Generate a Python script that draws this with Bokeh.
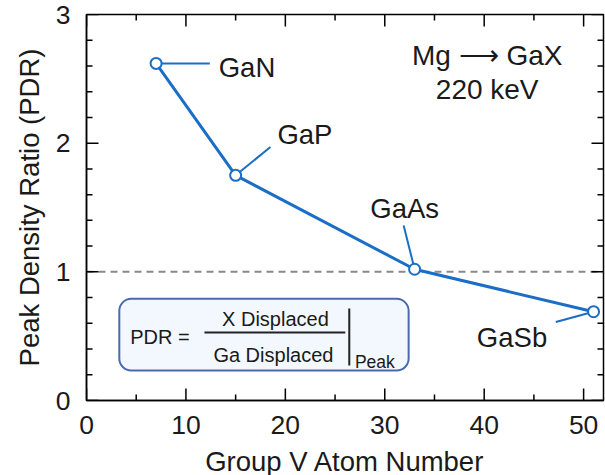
import math
from bokeh.plotting import figure
from bokeh.models import (SingleIntervalTicker, Span, BoxAnnotation,
                          ColumnDataSource)
from bokeh.core.properties import value
from bokeh.embed import file_html
from bokeh.resources import INLINE

# ---- data ----
compounds = ["GaN", "GaP", "GaAs", "GaSb"]
atom_number = [7, 15, 33, 51]
pdr = [2.62, 1.75, 1.02, 0.69]

x_ticks = [0, 10, 20, 30, 40, 50]
x_minor = [5, 15, 25, 35, 45]
y_ticks = [0, 1, 2, 3]
y_minor = [0.2, 0.4, 0.6, 0.8, 1.2, 1.4, 1.6, 1.8, 2.2, 2.4, 2.6, 2.8]
ref_level = 1.0

# ---- annotation placement (data units) ----
leader_x = [12.4, 18.5, 31.9, 47.2]
leader_y = [2.62, 1.97, 1.36, 0.61]
label_x = [13.3, 19.2, 32.0, 42.8]
label_y = [2.59, 2.07, 1.49, 0.49]
label_align = ["left", "left", "center", "center"]

X0, X1, Y0, Y1 = 0, 52, 0, 3

FONT = "Liberation Sans"
BLUE = "#1a6ec8"
TXT = "#1a1a1a"

p = figure(frame_width=517, frame_height=386, x_range=(X0, X1), y_range=(Y0, Y1),
           output_backend="svg", toolbar_location=None,
           min_border_left=86, min_border_right=2, min_border_top=14,
           min_border_bottom=75, background_fill_color="white",
           border_fill_color="white", outline_line_color="black",
           outline_line_width=1.5)
p.grid.visible = False

p.xaxis.ticker = SingleIntervalTicker(interval=10, num_minor_ticks=0)
p.yaxis.ticker = SingleIntervalTicker(interval=1, num_minor_ticks=0)

for ax in (p.xaxis[0], p.yaxis[0]):
    ax.major_tick_in = 0
    ax.major_tick_out = 0
    ax.minor_tick_in = 0
    ax.minor_tick_out = 0
    ax.axis_line_color = "black"
    ax.axis_line_width = 1.5
    ax.major_label_text_font = FONT
    ax.major_label_text_font_size = "26.5px"
    ax.major_label_text_color = TXT
    ax.axis_label_text_font = FONT
    ax.axis_label_text_font_size = "27.5px"
    ax.axis_label_text_font_style = "normal"
    ax.axis_label_text_color = TXT

p.xaxis.axis_label = "Group V Atom Number"
p.yaxis.axis_label = "Peak Density Ratio (PDR)"
p.xaxis.major_label_standoff = 15
p.yaxis.major_label_standoff = 16
p.xaxis.axis_label_standoff = 9
p.yaxis.axis_label_standoff = 8

# inward ticks on all four sides (dash markers centred on the frame edge,
# the outer half is clipped by the frame)
TK = dict(marker="dash", line_color="black", line_width=1.5)
for xs, sz in ((x_ticks, 24), (x_minor, 12)):
    p.scatter(xs, [Y0] * len(xs), size=sz, angle=math.pi / 2, **TK)
    p.scatter(xs, [Y1] * len(xs), size=sz, angle=math.pi / 2, **TK)
for ys, sz in ((y_ticks, 24), (y_minor, 12)):
    p.scatter([X0] * len(ys), ys, size=sz, **TK)
    p.scatter([X1] * len(ys), ys, size=sz, **TK)

# reference dashed line
p.add_layout(Span(location=ref_level, dimension="width", line_color="#8a8a8a",
                  line_dash="7 5", line_width=2, level="underlay"))

# formula box
p.add_layout(BoxAnnotation(left=3.3, right=32.4, bottom=0.233, top=0.79,
                           fill_color="#f3f8fe", fill_alpha=1.0,
                           line_color="#4a6aae", line_alpha=1.0, line_width=2,
                           border_radius=12, level="underlay"))
p.text(x=[4.4], y=[0.49], text=["PDR ="], text_font=value(FONT),
       text_font_size="20px", text_align="left", text_baseline="middle",
       text_color=TXT)
p.text(x=[19.0, 18.8], y=[0.637, 0.357], text=["X Displaced", "Ga Displaced"],
       text_font=value(FONT), text_font_size="20px", text_align="center",
       text_baseline="middle", text_color=TXT)
p.segment(x0=[11.86], y0=[0.528], x1=[26.03], y1=[0.528], line_color="#222222",
          line_width=2)
p.segment(x0=[26.43], y0=[0.715], x1=[26.43], y1=[0.272], line_color="#222222",
          line_width=2)
p.text(x=[27.0], y=[0.30], text=["Peak"], text_font=value(FONT),
       text_font_size="17.5px", text_align="left", text_baseline="middle",
       text_color=TXT)

# condition text
p.text(x=[40.3, 40.3], y=[2.68, 2.42], text=["Mg \u27f6 GaX", "220 keV"],
       text_font=value(FONT), text_font_size="28px", text_align="center",
       text_baseline="middle", text_color=TXT)

# data line
p.line(atom_number, pdr, line_color=BLUE, line_width=3)

# leaders
p.segment(x0=atom_number, y0=pdr, x1=leader_x, y1=leader_y,
          line_color=BLUE, line_width=2)

# labels
src = ColumnDataSource(dict(x=label_x, y=label_y, t=compounds, a=label_align))
p.text(x="x", y="y", text="t", text_align="a", source=src,
       text_font=value(FONT), text_font_size="27.5px", text_baseline="middle",
       text_color=TXT)

# markers
p.scatter(atom_number, pdr, marker="circle", size=11, fill_color="white",
          line_color=BLUE, line_width=2)

open("out.html", "w").write(file_html(p, INLINE))
